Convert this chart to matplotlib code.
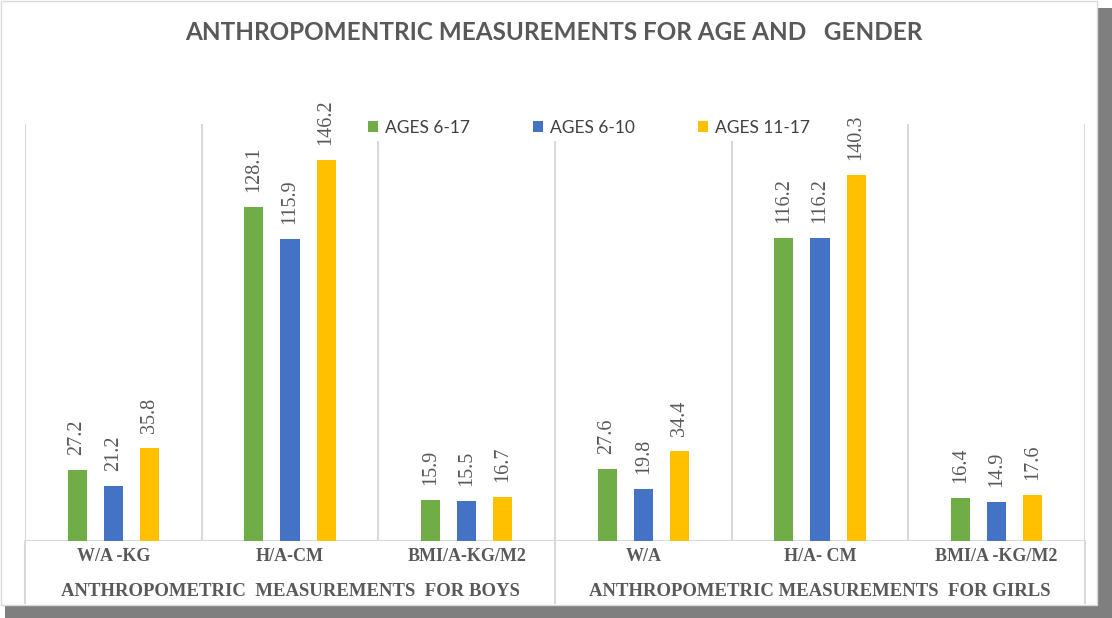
import matplotlib
matplotlib.use("Agg")
import matplotlib.pyplot as plt
from matplotlib.patches import Rectangle
from matplotlib.transforms import blended_transform_factory
import numpy as np

# data
categories = ["W/A -KG", "H/A-CM", "BMI/A-KG/M2", "W/A", "H/A- CM", "BMI/A -KG/M2"]
groups = ["ANTHROPOMETRIC  MEASUREMENTS  FOR BOYS", "ANTHROPOMETRIC MEASUREMENTS  FOR GIRLS"]
series = ["AGES 6-17", "AGES 6-10", "AGES 11-17"]
ages_6_17 = [27.2, 128.1, 15.9, 27.6, 116.2, 16.4]
ages_6_10 = [21.2, 115.9, 15.5, 19.8, 116.2, 14.9]
ages_11_17 = [35.8, 146.2, 16.7, 34.4, 140.3, 17.6]
colors = ["#70AD47", "#4472C4", "#FFC000"]
title = "ANTHROPOMENTRIC MEASUREMENTS FOR AGE AND   GENDER"

W, H = 1112, 618
fig = plt.figure(figsize=(W / 100, H / 100), dpi=100)

# chart frame with drop shadow
shadow = "#7F7F7F"
fig.patches.append(Rectangle((1097 / W, 0), 15 / W, 610 / H, transform=fig.transFigure,
                             facecolor=shadow, edgecolor="none", zorder=-3))
fig.patches.append(Rectangle((5 / W, 0), 1107 / W, 13 / H, transform=fig.transFigure,
                             facecolor=shadow, edgecolor="none", zorder=-3))
fig.patches.append(Rectangle((1 / W, 13 / H), 1096 / W, 604 / H, transform=fig.transFigure,
                             facecolor="white", edgecolor="#D9D9D9", lw=1, zorder=-2))

ax = fig.add_axes([25 / W, 77 / H, 1060 / W, 417 / H])
ax.set_facecolor("none")
for s in ax.spines.values():
    s.set_visible(False)
ax.set_xticks([])
ax.set_yticks([])
ax.set_xlim(-0.5, len(categories) - 0.5)
ax.set_ylim(0, 160)

grid = "#D9D9D9"
for xv in np.arange(-0.5, len(categories)):
    ax.axvline(xv, color=grid, lw=1.5, zorder=0)
ax.axhline(0, color=grid, lw=1.5, zorder=0)
trans = blended_transform_factory(ax.transData, ax.transAxes)
for xv in [-0.5, 2.5, 5.5]:
    ax.plot([xv, xv], [0, -0.149], transform=trans, color=grid, lw=1.5, clip_on=False)

x = np.arange(len(categories))
offsets = [-0.205, 0, 0.205]
handles = []
for vals, off, c in zip([ages_6_17, ages_6_10, ages_11_17], offsets, colors):
    b = ax.bar(x + off, vals, width=0.108, color=c, zorder=2)
    handles.append(b)
    for xi, v in zip(x + off, vals):
        ax.annotate(f"{v:.1f}", (xi, v), xytext=(0, 15), textcoords="offset pixels",
                    rotation=90, ha="center", va="bottom", fontsize=14.5,
                    family="Liberation Serif", color="#595959")

txt = "#595959"
for xi, cat in zip(x, categories):
    ax.text(xi, -0.038, cat, transform=trans, ha="center", va="center", fontsize=13,
            family="Liberation Serif", weight="bold", color=txt)
for xi, g in zip([1, 4], groups):
    ax.text(xi, -0.122, g, transform=trans, ha="center", va="center", fontsize=13.5,
            family="Liberation Serif", weight="bold", color=txt)

fig.legend(handles, series, loc="center", bbox_to_anchor=(589 / W, (H - 128) / H), ncol=3,
           frameon=True, facecolor="white", edgecolor="none", framealpha=1,
           prop={"family": "Lato", "size": 12.5}, labelcolor="#404040",
           handlelength=0.6, handleheight=0.6, handletextpad=0.4, columnspacing=3.6,
           borderpad=0.3)

fig.text(554 / W, (H - 33) / H, title, ha="center", va="center", fontsize=17.5,
         family="Lato", weight="bold", color=txt)

fig.savefig("out.png", dpi=100, facecolor="white")
